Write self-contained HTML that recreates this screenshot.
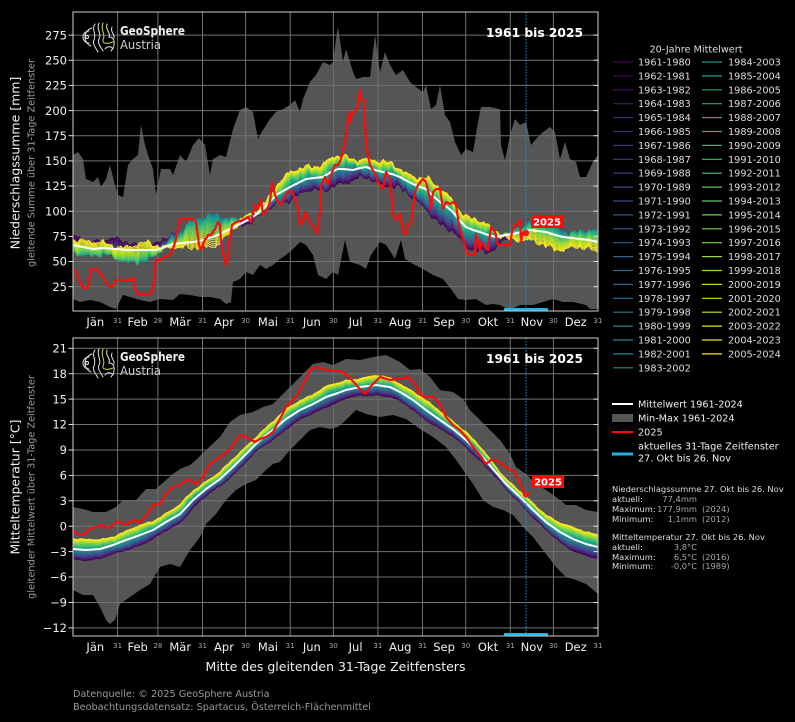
<!DOCTYPE html>
<html><head><meta charset="utf-8">
<style>
html,body{margin:0;padding:0;background:#000;}
svg{display:block;}
text{font-family:"DejaVu Sans","Liberation Sans",sans-serif;}
</style></head>
<body>
<svg id="s" xmlns="http://www.w3.org/2000/svg" width="795" height="722" viewBox="0 0 795 722">
<rect x="0" y="0" width="795" height="722" fill="#000"/>
<defs>
<clipPath id="cA"><rect x="73" y="12" width="525" height="299"/></clipPath>
<clipPath id="cB"><rect x="73" y="338" width="525" height="298"/></clipPath>
</defs>

<!-- ========== TOP AXES ========== -->
<g clip-path="url(#cA)">
<polygon fill="#555555" points="73,155 78,152 83,159 86,179 93,182 98,177 101,187 106,179 110,165 115,185 118,195 123,197 128,165 133,159 138,155 141,125 145,145 148,155 153,169 156,194 161,169 170,169 173,175 180,155 186,162 193,145 199,138 205,145 210,175 213,159 220,155 226,157 233,129 240,110 246,107 253,112 258,139 263,130 270,119 276,112 283,109 290,105 295,100 300,112 303,99 310,82 316,75 323,62 330,65 333,62 336,39 338,27 340,40 343,62 346,49 353,72 356,79 363,77 370,77 375,35 380,72 385,52 390,65 396,75 403,70 410,82 416,87 423,92 426,85 431,109 436,105 440,85 445,115 450,122 455,142 461,155 466,149 473,152 478,122 481,107 490,107 500,109 501,145 505,160 510,135 515,119 520,125 526,122 531,145 536,139 543,132 550,127 555,132 560,159 565,142 570,159 576,162 580,177 586,177 593,162 598,155 598,309 590,309 586,305 573,302 563,302 553,299 543,302 533,305 520,305 510,310 500,305 493,304 486,305 476,299 466,300 458,299 451,289 443,279 433,275 423,269 413,264 405,259 401,240 395,259 386,245 380,242 371,255 366,269 360,265 350,262 345,240 338,275 333,272 326,279 318,275 313,255 306,245 300,242 293,249 286,255 280,259 273,265 266,269 260,265 253,275 246,272 240,279 233,282 231,302 226,304 220,299 210,297 200,297 190,295 180,294 173,300 160,299 150,302 140,300 130,297 123,295 116,309 110,307 100,302 90,300 80,302 73,299"/>
<g stroke="#727272" stroke-width="1">
<line x1="73" x2="598" y1="286.7" y2="286.7"/><line x1="73" x2="598" y1="261.5" y2="261.5"/><line x1="73" x2="598" y1="236.4" y2="236.4"/><line x1="73" x2="598" y1="211.2" y2="211.2"/><line x1="73" x2="598" y1="186" y2="186"/><line x1="73" x2="598" y1="160.9" y2="160.9"/><line x1="73" x2="598" y1="135.7" y2="135.7"/><line x1="73" x2="598" y1="110.6" y2="110.6"/><line x1="73" x2="598" y1="85.4" y2="85.4"/><line x1="73" x2="598" y1="60.2" y2="60.2"/><line x1="73" x2="598" y1="35.1" y2="35.1"/>
<line y1="12" y2="311" x1="117.6" x2="117.6"/><line y1="12" y2="311" x1="157.9" x2="157.9"/><line y1="12" y2="311" x1="202.5" x2="202.5"/><line y1="12" y2="311" x1="245.6" x2="245.6"/><line y1="12" y2="311" x1="290.2" x2="290.2"/><line y1="12" y2="311" x1="333.4" x2="333.4"/><line y1="12" y2="311" x1="377.9" x2="377.9"/><line y1="12" y2="311" x1="422.5" x2="422.5"/><line y1="12" y2="311" x1="465.7" x2="465.7"/><line y1="12" y2="311" x1="510.3" x2="510.3"/><line y1="12" y2="311" x1="553.4" x2="553.4"/>
</g>
<g id="bandA"></g>
<polyline id="meanA" fill="none" stroke="#ffffff" stroke-width="2" stroke-linejoin="round" points="73,245 83,247 93,249 104,248 116,249 128,250 140,250 156,250 165,247 173,244 183,243 193,242 203,240 213,237 222,233 230,229 240,224 250,219 257,214 263,209 270,202 276,195 283,191 290,187 298,183 306,179 314,178 323,177 331,172 338,169 343,169 353,170 360,168 366,167 375,170 383,172 392,174 400,177 407,181 413,184 420,187 426,189 433,196 440,202 447,207 453,212 460,221 466,227 473,230 480,232 488,235 496,237 505,235 513,234 521,232 530,230 538,231 546,232 555,235 563,237 572,238 580,239 589,240 598,242"/>
<polyline fill="none" stroke="#ff0a0a" stroke-width="2.2" stroke-linejoin="round" points="73,270 76,272 81,285 85,289 88,287 91,269 96,269 101,274 106,282 110,287 113,287 115,280 131,280 133,277 135,289 138,294 150,294 153,289 156,260 160,260 165,257 170,255 173,249 176,239 180,219 193,219 196,222 199,245 201,250 205,239 206,239 208,235 211,235 215,229 218,222 220,225 221,242 225,262 227,265 229,245 232,225 236,222 243,220 248,217 251,222 255,205 258,209 261,199 263,215 266,212 270,202 272,182 275,195 278,202 281,205 286,194 291,190 295,199 298,209 300,225 303,222 305,212 308,219 311,224 315,229 317,234 320,212 321,185 325,177 328,185 331,175 335,165 338,165 341,159 345,142 346,135 349,112 350,122 352,114 356,110 358,105 360,90 361,99 364,100 366,145 370,165 375,174 378,182 383,189 386,172 390,179 393,215 396,220 400,214 403,232 406,234 408,224 411,224 415,192 418,185 423,179 426,182 430,199 431,209 433,192 436,189 440,189 443,209 446,202 450,204 453,202 456,205 459,225 463,239 468,255 475,255 476,234 480,250 481,242 488,250 491,227 495,232 498,245 510,245 512,232 515,225 518,224 520,220 521,242 523,232 526,233"/>
<circle cx="526" cy="233" r="3.2" fill="#ff0a0a"/>
<line x1="526" x2="526" y1="12" y2="311" stroke="#1e90c8" stroke-width="1" stroke-dasharray="1.5,1.5"/>
<rect x="504" y="308" width="44" height="3.5" fill="#22b4e6"/>
</g>
<rect x="531" y="215" width="32" height="13" fill="#ff0a0a"/>
<text x="547" y="225.5" font-size="10" font-weight="bold" fill="#fff" text-anchor="middle">2025</text>
<rect x="73" y="12" width="525" height="299" fill="none" stroke="#d0d0d0" stroke-width="1"/>

<!-- logo top -->
<g fill="none" stroke="#e4e4e4" stroke-width="1" stroke-linecap="round">
<circle cx="87" cy="37" r="1.5"/>
<path d="M89,31 A6,6 0 0 0 89,43"/>
<path d="M92,28 A9.5,9.5 0 0 0 91,46"/>
<path d="M95,24 C91,30 97,34 94,40 C92,44 96,48 98,52"/>
<path d="M99,23 C96,29 102,33 99,39 C97,43 101,47 103,51"/>
<path d="M103,23 C100,30 106,34 103,40 C102,44 108,44 113,42" stroke="#c8d83a"/>
<path d="M107,24 C105,30 111,32 109,37 C115,37 116,45 111,51"/>
<path d="M112,27 C110,32 115,34 114,38"/>
<path d="M105,49 C107,46 111,46 113,49"/>
</g>
<text x="120" y="35" font-size="12.5" font-weight="bold" fill="#eeeeee" textLength="65" lengthAdjust="spacingAndGlyphs">GeoSphere</text>
<text x="120" y="49" font-size="12.5" fill="#cfcfcf" textLength="41" lengthAdjust="spacingAndGlyphs">Austria</text>
<text x="486" y="37" font-size="12.3" font-weight="bold" fill="#ffffff" textLength="97" lengthAdjust="spacingAndGlyphs">1961 bis 2025</text>

<!-- y ticks top -->
<g stroke="#e0e0e0" stroke-width="1">
<line x1="68.5" x2="73" y1="286.7" y2="286.7"/><line x1="68.5" x2="73" y1="261.5" y2="261.5"/><line x1="68.5" x2="73" y1="236.4" y2="236.4"/><line x1="68.5" x2="73" y1="211.2" y2="211.2"/><line x1="68.5" x2="73" y1="186" y2="186"/><line x1="68.5" x2="73" y1="160.9" y2="160.9"/><line x1="68.5" x2="73" y1="135.7" y2="135.7"/><line x1="68.5" x2="73" y1="110.6" y2="110.6"/><line x1="68.5" x2="73" y1="85.4" y2="85.4"/><line x1="68.5" x2="73" y1="60.2" y2="60.2"/><line x1="68.5" x2="73" y1="35.1" y2="35.1"/>
<line x1="593.5" x2="598" y1="286.7" y2="286.7"/><line x1="593.5" x2="598" y1="261.5" y2="261.5"/><line x1="593.5" x2="598" y1="236.4" y2="236.4"/><line x1="593.5" x2="598" y1="211.2" y2="211.2"/><line x1="593.5" x2="598" y1="186" y2="186"/><line x1="593.5" x2="598" y1="160.9" y2="160.9"/><line x1="593.5" x2="598" y1="135.7" y2="135.7"/><line x1="593.5" x2="598" y1="110.6" y2="110.6"/><line x1="593.5" x2="598" y1="85.4" y2="85.4"/><line x1="593.5" x2="598" y1="60.2" y2="60.2"/><line x1="593.5" x2="598" y1="35.1" y2="35.1"/>
</g>
<g font-size="11.5" fill="#f0f0f0" text-anchor="end">
<text x="67" y="290.9">25</text><text x="67" y="265.7">50</text><text x="67" y="240.6">75</text><text x="67" y="215.4">100</text><text x="67" y="190.2">125</text><text x="67" y="165.1">150</text><text x="67" y="139.9">175</text><text x="67" y="114.8">200</text><text x="67" y="89.6">225</text><text x="67" y="64.4">250</text><text x="67" y="39.3">275</text>
</g>
<g font-size="11.5" fill="#f0f0f0" text-anchor="middle">
<text x="95.3" y="326">Jän</text><text x="137.7" y="326">Feb</text><text x="180.2" y="326">Mär</text><text x="224" y="326">Apr</text><text x="267.9" y="326">Mai</text><text x="311.8" y="326">Jun</text><text x="355.6" y="326">Jul</text><text x="400.2" y="326">Aug</text><text x="444.1" y="326">Sep</text><text x="488" y="326">Okt</text><text x="531.9" y="326">Nov</text><text x="575.7" y="326">Dez</text>
</g>
<g font-size="7" fill="#a8a8a8" text-anchor="middle">
<text x="117.6" y="323">31</text><text x="157.9" y="323">28</text><text x="202.5" y="323">31</text><text x="245.6" y="323">30</text><text x="290.2" y="323">31</text><text x="333.4" y="323">30</text><text x="377.9" y="323">31</text><text x="422.5" y="323">31</text><text x="465.7" y="323">30</text><text x="510.3" y="323">31</text><text x="553.4" y="323">30</text><text x="598" y="323">31</text>
</g>
<text transform="translate(19.5,163) rotate(-90)" font-size="12.5" fill="#f0f0f0" text-anchor="middle">Niederschlagssumme [mm]</text>
<text transform="translate(34.5,163) rotate(-90)" font-size="9.7" fill="#9a9a9a" text-anchor="middle">gleitende Summe über 31-Tage Zeitfenster</text>

<!-- ========== BOTTOM AXES ========== -->
<g clip-path="url(#cB)">
<polygon fill="#555555" points="73,507 83,509 93,512 106,512 116,507 123,500 136,500 146,489 156,489 166,480 173,474 180,469 190,465 196,460 206,450 220,437 230,422 240,415 253,412 263,407 273,404 283,394 293,384 303,374 313,364 323,362 333,365 346,359 360,360 373,357 386,355 400,362 410,370 420,369 430,377 440,390 453,392 463,399 470,410 480,420 490,430 500,440 510,454 516,467 526,474 536,484 546,490 556,497 566,505 576,505 586,510 598,512 598,594 586,584 576,580 566,577 556,567 546,554 533,537 523,527 513,515 503,510 493,507 483,500 473,484 466,474 456,460 446,447 433,437 420,429 406,419 393,415 380,417 366,414 356,410 346,420 338,427 330,429 320,427 310,430 300,440 290,450 280,462 273,464 266,470 256,480 246,484 236,490 226,500 216,514 206,524 200,537 190,550 180,567 170,564 160,567 150,584 140,590 130,597 120,604 115,620 110,624 106,620 100,607 93,595 83,595 73,590"/>
<g stroke="#727272" stroke-width="1">
<line x1="73" x2="598" y1="348.3" y2="348.3"/><line x1="73" x2="598" y1="373.7" y2="373.7"/><line x1="73" x2="598" y1="399.1" y2="399.1"/><line x1="73" x2="598" y1="424.5" y2="424.5"/><line x1="73" x2="598" y1="450" y2="450"/><line x1="73" x2="598" y1="475.4" y2="475.4"/><line x1="73" x2="598" y1="500.8" y2="500.8"/><line x1="73" x2="598" y1="526.2" y2="526.2"/><line x1="73" x2="598" y1="551.6" y2="551.6"/><line x1="73" x2="598" y1="577" y2="577"/><line x1="73" x2="598" y1="602.5" y2="602.5"/><line x1="73" x2="598" y1="627.9" y2="627.9"/>
<line y1="338" y2="636" x1="117.6" x2="117.6"/><line y1="338" y2="636" x1="157.9" x2="157.9"/><line y1="338" y2="636" x1="202.5" x2="202.5"/><line y1="338" y2="636" x1="245.6" x2="245.6"/><line y1="338" y2="636" x1="290.2" x2="290.2"/><line y1="338" y2="636" x1="333.4" x2="333.4"/><line y1="338" y2="636" x1="377.9" x2="377.9"/><line y1="338" y2="636" x1="422.5" x2="422.5"/><line y1="338" y2="636" x1="465.7" x2="465.7"/><line y1="338" y2="636" x1="510.3" x2="510.3"/><line y1="338" y2="636" x1="553.4" x2="553.4"/>
</g>
<g id="bandB"></g>
<polyline id="meanB" fill="none" stroke="#ffffff" stroke-width="2" stroke-linejoin="round" points="73,549 86,550 100,549 113,545 126,540 140,535 153,530 166,522 180,514 193,500 206,489 220,479 233,467 246,454 260,440 273,430 286,419 300,410 313,404 326,397 338,393 346,390 360,387 376,385 390,387 400,392 413,400 426,410 440,420 453,429 466,440 480,454 493,469 506,484 520,497 533,510 546,522 560,532 573,539 586,544 598,547"/>
<polyline fill="none" stroke="#ff0a0a" stroke-width="2.2" stroke-linejoin="round" points="73,530 78,535 83,535 90,529 96,527 103,525 106,528 111,527 116,522 121,522 125,525 130,522 135,520 140,523 145,517 153,505 160,504 166,494 173,487 180,485 188,479 196,484 203,477 210,464 216,460 223,455 230,449 240,435 246,437 255,442 260,439 266,437 273,432 281,417 286,407 296,397 303,384 310,370 316,367 326,370 333,370 343,372 351,379 360,389 365,394 370,387 380,377 390,380 398,379 408,377 415,384 421,395 426,397 433,397 440,404 446,417 453,425 460,430 466,437 473,447 480,455 486,464 491,460 496,460 503,465 510,470 515,472 518,479 523,490 526,494"/>
<circle cx="526" cy="494" r="3.2" fill="#ff0a0a"/>
<line x1="526" x2="526" y1="338" y2="636" stroke="#1e90c8" stroke-width="1" stroke-dasharray="1.5,1.5"/>
<rect x="504" y="633" width="44" height="3.5" fill="#22b4e6"/>
</g>
<rect x="532" y="475" width="32" height="13" fill="#ff0a0a"/>
<text x="548" y="485.5" font-size="10" font-weight="bold" fill="#fff" text-anchor="middle">2025</text>
<rect x="73" y="338" width="525" height="298" fill="none" stroke="#d0d0d0" stroke-width="1"/>

<!-- logo bottom -->
<g transform="translate(0,326)" fill="none" stroke="#e4e4e4" stroke-width="1" stroke-linecap="round">
<circle cx="87" cy="37" r="1.5"/>
<path d="M89,31 A6,6 0 0 0 89,43"/>
<path d="M92,28 A9.5,9.5 0 0 0 91,46"/>
<path d="M95,24 C91,30 97,34 94,40 C92,44 96,48 98,52"/>
<path d="M99,23 C96,29 102,33 99,39 C97,43 101,47 103,51"/>
<path d="M103,23 C100,30 106,34 103,40 C102,44 108,44 113,42" stroke="#c8d83a"/>
<path d="M107,24 C105,30 111,32 109,37 C115,37 116,45 111,51"/>
<path d="M112,27 C110,32 115,34 114,38"/>
<path d="M105,49 C107,46 111,46 113,49"/>
</g>
<text x="120" y="361" font-size="12.5" font-weight="bold" fill="#eeeeee" textLength="65" lengthAdjust="spacingAndGlyphs">GeoSphere</text>
<text x="120" y="375" font-size="12.5" fill="#cfcfcf" textLength="41" lengthAdjust="spacingAndGlyphs">Austria</text>
<text x="486" y="363" font-size="12.3" font-weight="bold" fill="#ffffff" textLength="97" lengthAdjust="spacingAndGlyphs">1961 bis 2025</text>

<g stroke="#e0e0e0" stroke-width="1">
<line x1="68.5" x2="73" y1="348.3" y2="348.3"/><line x1="68.5" x2="73" y1="373.7" y2="373.7"/><line x1="68.5" x2="73" y1="399.1" y2="399.1"/><line x1="68.5" x2="73" y1="424.5" y2="424.5"/><line x1="68.5" x2="73" y1="450" y2="450"/><line x1="68.5" x2="73" y1="475.4" y2="475.4"/><line x1="68.5" x2="73" y1="500.8" y2="500.8"/><line x1="68.5" x2="73" y1="526.2" y2="526.2"/><line x1="68.5" x2="73" y1="551.6" y2="551.6"/><line x1="68.5" x2="73" y1="577" y2="577"/><line x1="68.5" x2="73" y1="602.5" y2="602.5"/><line x1="68.5" x2="73" y1="627.9" y2="627.9"/>
<line x1="593.5" x2="598" y1="348.3" y2="348.3"/><line x1="593.5" x2="598" y1="373.7" y2="373.7"/><line x1="593.5" x2="598" y1="399.1" y2="399.1"/><line x1="593.5" x2="598" y1="424.5" y2="424.5"/><line x1="593.5" x2="598" y1="450" y2="450"/><line x1="593.5" x2="598" y1="475.4" y2="475.4"/><line x1="593.5" x2="598" y1="500.8" y2="500.8"/><line x1="593.5" x2="598" y1="526.2" y2="526.2"/><line x1="593.5" x2="598" y1="551.6" y2="551.6"/><line x1="593.5" x2="598" y1="577" y2="577"/><line x1="593.5" x2="598" y1="602.5" y2="602.5"/><line x1="593.5" x2="598" y1="627.9" y2="627.9"/>
</g>
<g font-size="11.5" fill="#f0f0f0" text-anchor="end">
<text x="67" y="352.5">21</text><text x="67" y="377.9">18</text><text x="67" y="403.3">15</text><text x="67" y="428.7">12</text><text x="67" y="454.2">9</text><text x="67" y="479.6">6</text><text x="67" y="505">3</text><text x="67" y="530.4">0</text><text x="67" y="555.8">−3</text><text x="67" y="581.2">−6</text><text x="67" y="606.7">−9</text><text x="67" y="632.1">−12</text>
</g>
<g font-size="11.5" fill="#f0f0f0" text-anchor="middle">
<text x="95.3" y="651">Jän</text><text x="137.7" y="651">Feb</text><text x="180.2" y="651">Mär</text><text x="224" y="651">Apr</text><text x="267.9" y="651">Mai</text><text x="311.8" y="651">Jun</text><text x="355.6" y="651">Jul</text><text x="400.2" y="651">Aug</text><text x="444.1" y="651">Sep</text><text x="488" y="651">Okt</text><text x="531.9" y="651">Nov</text><text x="575.7" y="651">Dez</text>
</g>
<g font-size="7" fill="#a8a8a8" text-anchor="middle">
<text x="117.6" y="648">31</text><text x="157.9" y="648">28</text><text x="202.5" y="648">31</text><text x="245.6" y="648">30</text><text x="290.2" y="648">31</text><text x="333.4" y="648">30</text><text x="377.9" y="648">31</text><text x="422.5" y="648">31</text><text x="465.7" y="648">30</text><text x="510.3" y="648">31</text><text x="553.4" y="648">30</text><text x="598" y="648">31</text>
</g>
<text x="335.5" y="671" font-size="12.5" fill="#f0f0f0" text-anchor="middle">Mitte des gleitenden 31-Tage Zeitfensters</text>
<text transform="translate(19.5,487) rotate(-90)" font-size="12.5" fill="#f0f0f0" text-anchor="middle">Mitteltemperatur [°C]</text>
<text transform="translate(34.5,487) rotate(-90)" font-size="9.7" fill="#9a9a9a" text-anchor="middle">gleitender Mittelwert über 31-Tage Zeitfenster</text>

<!-- footer -->
<text x="73" y="697" font-size="9.7" fill="#999">Datenquelle: © 2025 GeoSphere Austria</text>
<text x="73" y="710" font-size="9.7" fill="#999">Beobachtungsdatensatz: Spartacus, Österreich-Flächenmittel</text>

<!-- ========== LEGEND 1 ========== -->
<text x="696" y="52.5" font-size="9.7" fill="#dddddd" text-anchor="middle">20-Jahre Mittelwert</text>
<g id="legLines"></g>
<g font-size="9.7" fill="#dddddd">
<text x="638" y="65.5">1961-1980</text><text x="638" y="79.4">1962-1981</text><text x="638" y="93.3">1963-1982</text><text x="638" y="107.2">1964-1983</text><text x="638" y="121.1">1965-1984</text><text x="638" y="135">1966-1985</text><text x="638" y="148.9">1967-1986</text><text x="638" y="162.8">1968-1987</text><text x="638" y="176.7">1969-1988</text><text x="638" y="190.6">1970-1989</text><text x="638" y="204.5">1971-1990</text><text x="638" y="218.4">1972-1991</text><text x="638" y="232.3">1973-1992</text><text x="638" y="246.2">1974-1993</text><text x="638" y="260.1">1975-1994</text><text x="638" y="274">1976-1995</text><text x="638" y="287.9">1977-1996</text><text x="638" y="301.8">1978-1997</text><text x="638" y="315.7">1979-1998</text><text x="638" y="329.6">1980-1999</text><text x="638" y="343.5">1981-2000</text><text x="638" y="357.4">1982-2001</text><text x="638" y="371.3">1983-2002</text>
<text x="728" y="65.5">1984-2003</text><text x="728" y="79.4">1985-2004</text><text x="728" y="93.3">1986-2005</text><text x="728" y="107.2">1987-2006</text><text x="728" y="121.1">1988-2007</text><text x="728" y="135">1989-2008</text><text x="728" y="148.9">1990-2009</text><text x="728" y="162.8">1991-2010</text><text x="728" y="176.7">1992-2011</text><text x="728" y="190.6">1993-2012</text><text x="728" y="204.5">1994-2013</text><text x="728" y="218.4">1995-2014</text><text x="728" y="232.3">1996-2015</text><text x="728" y="246.2">1997-2016</text><text x="728" y="260.1">1998-2017</text><text x="728" y="274">1999-2018</text><text x="728" y="287.9">2000-2019</text><text x="728" y="301.8">2001-2020</text><text x="728" y="315.7">2002-2021</text><text x="728" y="329.6">2003-2022</text><text x="728" y="343.5">2004-2023</text><text x="728" y="357.4">2005-2024</text>
</g>

<!-- ========== LEGEND 2 ========== -->
<line x1="612" x2="633" y1="404" y2="404" stroke="#fff" stroke-width="2"/>
<rect x="612" y="414" width="21" height="8" fill="#555"/>
<line x1="612" x2="633" y1="432" y2="432" stroke="#ff0a0a" stroke-width="2"/>
<line x1="612" x2="633" y1="454" y2="454" stroke="#22b4e6" stroke-width="3"/>
<g font-size="9.7" fill="#eeeeee">
<text x="638" y="407.5">Mittelwert 1961-2024</text>
<text x="638" y="421.5">Min-Max 1961-2024</text>
<text x="638" y="435.5">2025</text>
<text x="638" y="449.5">aktuelles 31-Tage Zeitfenster</text>
<text x="638" y="461.5">27. Okt bis 26. Nov</text>
</g>
<g font-size="8.3" fill="#dddddd">
<text x="612" y="492">Niederschlagssumme 27. Okt bis 26. Nov</text>
<text x="612" y="502">aktuell:</text>
<text x="612" y="512">Maximum:</text>
<text x="612" y="522">Minimum:</text>
<text x="612" y="540">Mitteltemperatur 27. Okt bis 26. Nov</text>
<text x="612" y="550">aktuell:</text>
<text x="612" y="560">Maximum:</text>
<text x="612" y="569">Minimum:</text>
</g>
<g font-size="8.3" fill="#a8a8a8">
<text x="697" y="502" text-anchor="end">77,4mm</text>
<text x="697" y="512" text-anchor="end">177,9mm</text>
<text x="702" y="512">(2024)</text>
<text x="697" y="522" text-anchor="end">1,1mm</text>
<text x="702" y="522">(2012)</text>
<text x="697" y="550" text-anchor="end">3,8°C</text>
<text x="697" y="560" text-anchor="end">6,5°C</text>
<text x="702" y="560">(2016)</text>
<text x="697" y="569" text-anchor="end">-0,0°C</text>
<text x="702" y="569">(1989)</text>
</g>
</svg>
<script>
(function(){
var NS="http://www.w3.org/2000/svg";
var vir=[[68,1,84],[72,36,117],[65,68,135],[53,95,141],[42,120,142],[33,145,140],[34,168,132],[68,191,112],[122,209,81],[189,223,38],[253,231,37]];
function vcol(t){var s=t*10,i=Math.min(9,Math.floor(s)),f=s-i,a=vir[i],b=vir[i+1];
return "rgb("+Math.round(a[0]+(b[0]-a[0])*f)+","+Math.round(a[1]+(b[1]-a[1])*f)+","+Math.round(a[2]+(b[2]-a[2])*f)+")";}
function parse(id){return document.getElementById(id).getAttribute("points").trim().split(/\s+/).map(function(p){var q=p.split(",");return [+q[0],+q[1]];});}
function interp(pts,x){if(x<=pts[0][0])return pts[0][1];for(var k=1;k<pts.length;k++){if(x<=pts[k][0]){var a=pts[k-1],b=pts[k];return a[1]+(b[1]-a[1])*(x-a[0])/(b[0]-a[0]);}}return pts[pts.length-1][1];}
function prof(tab,x){if(x<=tab[0][0])return tab[0];for(var k=1;k<tab.length;k++){if(x<=tab[k][0]){var a=tab[k-1],b=tab[k],f=(x-a[0])/(b[0]-a[0]);return [x,a[1]+(b[1]-a[1])*f,a[2]+(b[2]-a[2])*f,a[3]+(b[3]-a[3])*f];}}return tab[tab.length-1];}
function band(gid,mid,tab,amp,cj,seed){
var g=document.getElementById(gid),mean=parse(mid);
for(var i=0;i<45;i++){var t=i/44,u=2*t-1,d="";
for(var x=73;x<=599;x+=1.5){var p=prof(tab,x);
var off=p[3]+p[1]*u+p[2]*4*t*(1-t);
/* per-line smooth, strongly correlated between neighbours */
off+=amp[0]*Math.sin(x*0.045+t*2.2+seed)+amp[1]*Math.sin(x*0.13+t*2.8+1.7+seed)+amp[2]*Math.sin(x*0.31+t*3.4+0.4)+amp[3]*Math.sin(x*0.67+t*4.0+2.2);
/* common jagged component */
off+=cj*(Math.sin(x*0.83+0.5)*0.6+Math.sin(x*1.37+1.9)*0.4+Math.sin(x*2.11+0.2)*0.3);
var y=interp(mean,x)+off;d+=(d?"L":"M")+x.toFixed(1)+","+y.toFixed(1);}
var pa=document.createElementNS(NS,"path");pa.setAttribute("d",d);pa.setAttribute("fill","none");pa.setAttribute("stroke",vcol(t));pa.setAttribute("stroke-width","1");pa.setAttribute("stroke-linejoin","round");g.appendChild(pa);}
}
band("bandA","meanA",[[73,0,14,-6],[150,0,14,-6],[190,12,-16,-2],[215,11,-14,-2],[250,-6,0,0],[290,-11,0,-2],[340,-11,0,2],[400,-12,0,1],[445,-15,0,4],[490,-11,0,5],[530,7,-11,3],[598,8,-11,3]],[2.5,2.0,1.3,0.8],1.6,0.3);
band("bandB","meanB",[[73,-11,0,0],[160,-8,0,0],[250,-8,0,0],[380,-10,0,0],[460,-7,0,0],[520,-6,0,0],[560,-9,0,0],[598,-12,0,0]],[1.0,0.7,0.35,0.2],0.3,1.1);
var lg=document.getElementById("legLines");
for(var i=0;i<45;i++){var col=i<23?0:1,r=col?i-23:i,y=62+r*13.9;
var l=document.createElementNS(NS,"line");l.setAttribute("x1",col?702:613);l.setAttribute("x2",col?722:633);l.setAttribute("y1",y);l.setAttribute("y2",y);l.setAttribute("stroke",vcol(i/44));l.setAttribute("stroke-width","1.2");lg.appendChild(l);}
})();
</script>
</body></html>
